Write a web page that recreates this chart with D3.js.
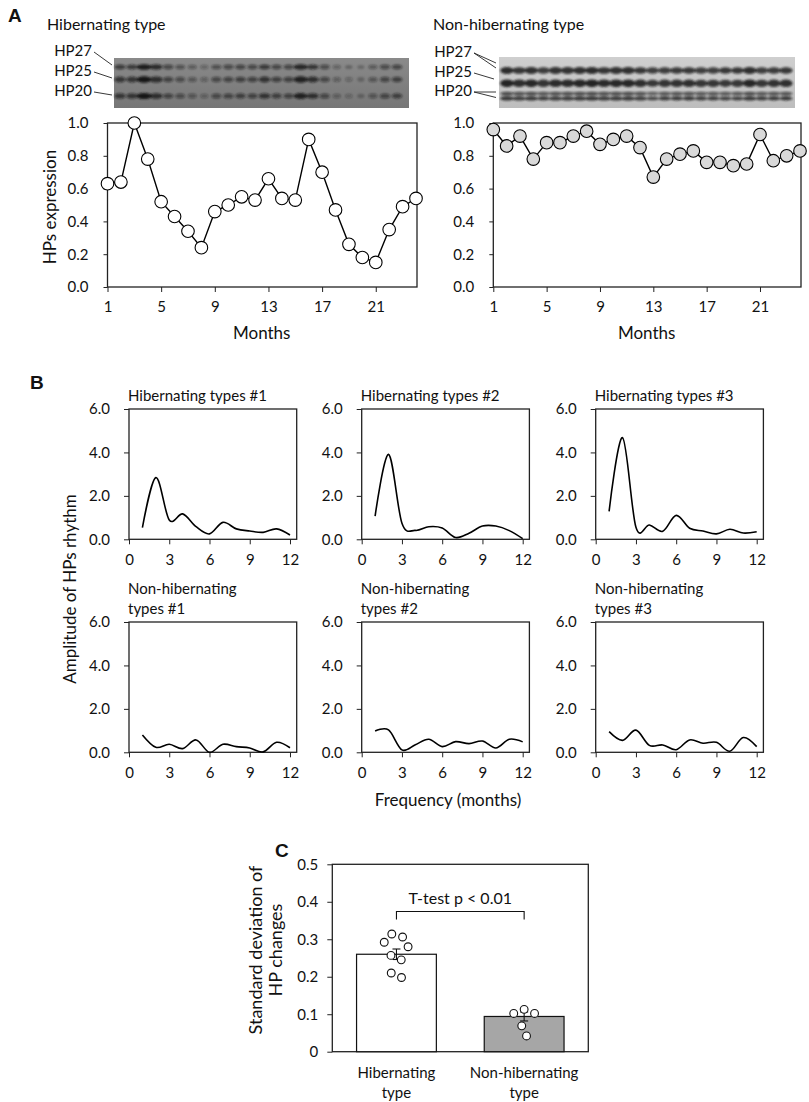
<!DOCTYPE html>
<html>
<head>
<meta charset="utf-8">
<script src="https://cdn.jsdelivr.net/npm/d3@7"></script>
<style>
  body { margin: 0; background: #fff; }
  svg text { font-family: Lato, "Open Sans", sans-serif; fill: #111; }
  .tick line { stroke: #222; }
  .plab { font-family: "Liberation Sans", Arial, sans-serif !important; font-weight: bold; font-size: 19px; }
</style>
</head>
<body>
<div id="chart"></div>
<script>
// ---- data ----
const months = [1,2,3,4,5,6,7,8,9,10,11,12,13,14,15,16,17,18,19,20,21,22,23,24];
const monthTicks = [1, 5, 9, 13, 17, 21];
const hibExpr = [0.63,0.64,1.00,0.78,0.52,0.43,0.34,0.24,0.46,0.50,0.55,0.53,
                 0.66,0.54,0.53,0.90,0.70,0.47,0.26,0.18,0.15,0.35,0.49,0.54];
const nonExpr = [0.96,0.86,0.92,0.78,0.88,0.88,0.92,0.95,0.87,0.90,0.92,0.85,
                 0.67,0.78,0.81,0.83,0.76,0.76,0.74,0.75,0.93,0.77,0.80,0.83];
const exprTicks = [0, 0.2, 0.4, 0.6, 0.8, 1.0];
const bandNames = ["HP27", "HP25", "HP20"];

const freqs = [1,2,3,4,5,6,7,8,9,10,11,12];
const freqTicks = [0, 3, 6, 9, 12];
const ampTicks = [0, 2, 4, 6];
const hib1 = [0.54,2.84,0.89,1.17,0.58,0.25,0.78,0.48,0.38,0.32,0.48,0.20];
const hib2 = [1.07,3.91,0.74,0.41,0.58,0.52,0.08,0.28,0.61,0.61,0.40,0.03];
const hib3 = [1.29,4.68,0.55,0.66,0.37,1.10,0.51,0.38,0.25,0.46,0.29,0.35];
const non1 = [0.80,0.23,0.37,0.17,0.57,0.00,0.37,0.26,0.20,0.02,0.46,0.21];
const non2 = [0.98,1.03,0.11,0.35,0.60,0.26,0.49,0.40,0.52,0.20,0.60,0.48];
const non3 = [0.95,0.55,1.02,0.32,0.34,0.12,0.57,0.42,0.46,0.05,0.68,0.26];
const spectrumTitles = [
  ["Hibernating types #1"], ["Hibernating types #2"], ["Hibernating types #3"],
  ["Non-hibernating", "types #1"], ["Non-hibernating", "types #2"], ["Non-hibernating", "types #3"]
];

const groups = ["Hibernating type", "Non-hibernating type"];
const sdMeans = [0.26, 0.094];
const sdErrors = [0.014, 0.012];
const hibSD = [0.314,0.306,0.292,0.280,0.257,0.245,0.210,0.198];
const nonSD = [0.113,0.102,0.102,0.069,0.042];
const sdTicks = [0, 0.1, 0.2, 0.3, 0.4, 0.5];

const W = 809, H = 1102;
const svg = d3.select("#chart").append("svg")
    .attr("width", W).attr("height", H);

const defs = svg.append("defs");
defs.append("filter").attr("id", "blur")
    .append("feGaussianBlur").attr("stdDeviation", 0.9);

function tidyAxis(g) {
  g.select(".domain").remove();
  g.selectAll(".tick line").attr("stroke", "#222");
}

// ---------------- A ----------------
svg.append("text").attr("class", "plab").attr("x", 8).attr("y", 22).text("A");

const yA = d3.scaleLinear().domain([0, 1]).range([287, 123]);

function gel(opt) {
  const g = svg.append("g");
  const grad = defs.append("linearGradient").attr("id", opt.id)
      .attr("x1", 0).attr("x2", 0).attr("y1", 0).attr("y2", 1);
  grad.append("stop").attr("offset", 0).attr("stop-color", opt.bg[0]);
  grad.append("stop").attr("offset", 1).attr("stop-color", opt.bg[1]);
  g.append("rect").attr("x", opt.x).attr("y", opt.y)
      .attr("width", opt.w).attr("height", opt.h)
      .attr("fill", `url(#${opt.id})`);

  const lane = d3.scalePoint().domain(months).range(opt.lanes);
  const op = d3.scaleLinear().domain([0.1, 1]).range(opt.opacity).clamp(true);
  const rx = d3.scaleLinear().domain([0.1, 1]).range(opt.rx).clamp(true);
  const bands = g.append("g").attr("filter", "url(#blur)");
  opt.rows.forEach(row => {
    bands.selectAll(null).data(opt.values).join("ellipse")
        .attr("cx", (d, i) => lane(months[i]))
        .attr("cy", row.y)
        .attr("rx", d => rx(d))
        .attr("ry", d => row.ry * (0.75 + 0.35 * d))
        .attr("fill", "#151515")
        .attr("fill-opacity", d => op(d) * row.k);
  });

  opt.labels.forEach((lb, i) => {
    g.append("text").attr("x", opt.labelX).attr("y", lb.y + 5)
        .attr("text-anchor", "end").attr("font-size", 15).text(bandNames[i]);
    lb.to.forEach(t => {
      g.append("line")
          .attr("x1", opt.labelX + 2).attr("y1", lb.y + 1)
          .attr("x2", t[0]).attr("y2", t[1])
          .attr("stroke", "#222").attr("stroke-width", 0.9);
    });
  });
}

function exprChart(x0, x1, values, fill, title) {
  const x = d3.scaleLinear().domain([1, 24]).range([x0, x1]);
  const g = svg.append("g");

  g.append("text").attr("x", title.x).attr("y", 30)
      .attr("font-size", 16).text(title.text);

  g.append("rect")
      .attr("x", x0).attr("y", yA(1))
      .attr("width", x1 - x0 + 1).attr("height", yA(0) - yA(1))
      .attr("fill", "none").attr("stroke", "#222").attr("stroke-width", 1.3);

  g.append("g").attr("transform", `translate(${x0},0)`)
      .call(d3.axisLeft(yA).tickValues(exprTicks).tickFormat(d3.format(".1f"))
          .tickSize(4).tickPadding(15))
      .call(tidyAxis)
      .selectAll("text").attr("font-size", 15).attr("font-family", "Lato");

  g.append("g").attr("transform", `translate(0,${yA(0)})`)
      .call(d3.axisBottom(x).tickValues(monthTicks).tickFormat(d3.format("d"))
          .tickSize(5).tickPadding(9))
      .call(tidyAxis)
      .selectAll("text").attr("font-size", 15).attr("font-family", "Lato");

  g.append("text").attr("x", (x0 + x1) / 2).attr("y", 339)
      .attr("text-anchor", "middle").attr("font-size", 17).text("Months");

  const line = d3.line().x((d, i) => x(months[i])).y(d => yA(d));
  g.append("path").datum(values)
      .attr("d", line).attr("fill", "none")
      .attr("stroke", "#000").attr("stroke-width", 1.4);

  g.selectAll("circle").data(values).join("circle")
      .attr("cx", (d, i) => x(months[i]))
      .attr("cy", d => yA(d))
      .attr("r", 6.3)
      .attr("fill", fill).attr("stroke", "#000").attr("stroke-width", 1.1);
}

gel({
  id: "gelL", x: 114, y: 58, w: 295, h: 50, bg: ["#8a8a8a", "#767676"],
  lanes: [120, 397], values: hibExpr, opacity: [0.2, 1], rx: [3.4, 7.4],
  rows: [{y: 67, ry: 2.6, k: 0.95}, {y: 79.5, ry: 3.0, k: 1}, {y: 96, ry: 2.8, k: 1}],
  labelX: 92,
  labels: [{y: 51, to: [[112, 65]]}, {y: 71, to: [[112, 78]]}, {y: 91, to: [[112, 95]]}]
});
gel({
  id: "gelR", x: 499, y: 57, w: 296, h: 51, bg: ["#cfcfcf", "#bdbdbd"],
  lanes: [507, 786], values: nonExpr, opacity: [0.5, 0.95], rx: [5.5, 6.8],
  rows: [{y: 70.5, ry: 3.2, k: 0.95}, {y: 83.3, ry: 3.6, k: 1},
         {y: 93.6, ry: 1.8, k: 0.75}, {y: 98.4, ry: 2.0, k: 0.9}],
  labelX: 472,
  labels: [{y: 52, to: [[496, 63], [496, 68]]}, {y: 72, to: [[494, 79]]},
           {y: 91, to: [[496, 92], [496, 97.5]]}]
});

exprChart(107.5, 416, hibExpr, "#fff", {x: 47, text: "Hibernating type"});
exprChart(493.3, 800, nonExpr, "#d9d9d9", {x: 433, text: "Non-hibernating type"});

svg.append("text")
    .attr("transform", "translate(56,207) rotate(-90)")
    .attr("text-anchor", "middle").attr("font-size", 17).text("HPs expression");

// ---------------- B ----------------
svg.append("text").attr("class", "plab").attr("x", 30).attr("y", 389).text("B");

const spectra = [hib1, hib2, hib3, non1, non2, non3];
const colX = [129, 361.7, 595.7];
const rowY = [409, 622];
const pw = 167.7, ph = 130.3;

spectra.forEach((vals, k) => {
  const x0 = colX[k % 3], y0 = rowY[Math.floor(k / 3)];
  const x = d3.scaleLinear().domain([0, 12.5]).range([x0, x0 + pw]);
  const y = d3.scaleLinear().domain([0, 6]).range([y0 + ph, y0]);
  const g = svg.append("g");

  const lines = spectrumTitles[k];
  lines.forEach((t, j) => {
    g.append("text").attr("x", x0 - 1)
        .attr("y", y0 - 8 - (lines.length - 1 - j) * 20)
        .attr("font-size", 15).text(t);
  });

  g.append("rect").attr("x", x0).attr("y", y0).attr("width", pw).attr("height", ph)
      .attr("fill", "none").attr("stroke", "#222").attr("stroke-width", 1.3);

  g.append("g").attr("transform", `translate(${x0},0)`)
      .call(d3.axisLeft(y).tickValues(ampTicks).tickFormat(d3.format(".1f"))
          .tickSize(5).tickPadding(14))
      .call(tidyAxis)
      .selectAll("text").attr("font-size", 15).attr("font-family", "Lato");

  g.append("g").attr("transform", `translate(0,${y0 + ph})`)
      .call(d3.axisBottom(x).tickValues(freqTicks).tickFormat(d3.format("d"))
          .tickSize(5).tickPadding(10))
      .call(tidyAxis)
      .selectAll("text").attr("font-size", 15).attr("font-family", "Lato");

  const line = d3.line()
      .x((d, i) => x(freqs[i])).y(d => y(d))
      .curve(d3.curveCardinal.tension(0));
  g.append("path").datum(vals).attr("d", line)
      .attr("fill", "none").attr("stroke", "#000").attr("stroke-width", 1.6);
});

svg.append("text")
    .attr("transform", "translate(76,589) rotate(-90)")
    .attr("text-anchor", "middle").attr("font-size", 17).text("Amplitude of HPs rhythm");
svg.append("text").attr("x", 448).attr("y", 806)
    .attr("text-anchor", "middle").attr("font-size", 17).text("Frequency (months)");

// ---------------- C ----------------
svg.append("text").attr("class", "plab").attr("x", 275).attr("y", 857).text("C");

const cx0 = 332.3, cx1 = 588.3;
const xC = d3.scaleBand().domain(groups).range([cx0, cx1])
    .paddingInner(0.375).paddingOuter(0.19);
const yC = d3.scaleLinear().domain([0, 0.5]).range([1051.7, 864.3]);
const gC = svg.append("g");

gC.append("rect").attr("x", cx0).attr("y", yC(0.5))
    .attr("width", cx1 - cx0).attr("height", yC(0) - yC(0.5))
    .attr("fill", "none").attr("stroke", "#222").attr("stroke-width", 1.3);

gC.selectAll(".bar").data(sdMeans).join("rect").attr("class", "bar")
    .attr("x", (d, i) => xC(groups[i]))
    .attr("y", d => yC(d))
    .attr("width", xC.bandwidth())
    .attr("height", d => yC(0) - yC(d))
    .attr("fill", (d, i) => i === 0 ? "#fff" : "#a6a6a6")
    .attr("stroke", "#111").attr("stroke-width", 1.2);

gC.append("g").attr("transform", `translate(${cx0},0)`)
    .call(d3.axisLeft(yC).tickValues(sdTicks)
        .tickFormat(d => d === 0 ? "0" : d3.format(".1f")(d))
        .tickSize(5).tickPadding(9))
    .call(tidyAxis)
    .selectAll("text").attr("font-size", 15).attr("font-family", "Lato");

// error bars
sdMeans.forEach((m, i) => {
  const c = xC(groups[i]) + xC.bandwidth() / 2;
  const e = sdErrors[i];
  const eg = gC.append("g").attr("stroke", "#111").attr("stroke-width", 1.1);
  eg.append("line").attr("x1", c).attr("x2", c).attr("y1", yC(m - e)).attr("y2", yC(m + e));
  [m - e, m + e].forEach(v => {
    eg.append("line").attr("x1", c - 4).attr("x2", c + 4).attr("y1", yC(v)).attr("y2", yC(v));
  });
});

// individual points, laid out as a small beeswarm
[hibSD, nonSD].forEach((vals, i) => {
  const c = xC(groups[i]) + xC.bandwidth() / 2;
  const nodes = vals.map(v => ({v, x: c, y: yC(v), fy: yC(v)}));
  const sim = d3.forceSimulation(nodes)
      .force("x", d3.forceX(c).strength(0.03))
      .force("collide", d3.forceCollide(5.6))
      .stop();
  for (let t = 0; t < 200; t++) sim.tick();
  gC.selectAll(null).data(nodes).join("circle")
      .attr("cx", d => d.x).attr("cy", d => d.fy)
      .attr("r", 3.9)
      .attr("fill", "#fff").attr("stroke", "#111").attr("stroke-width", 1.1);
});

// significance bracket
const bx1 = xC(groups[0]) + xC.bandwidth() / 2;
const bx2 = xC(groups[1]) + xC.bandwidth() / 2;
const by = yC(0.374);
gC.append("path")
    .attr("d", `M${bx1},${by + 8}V${by}H${bx2}V${by + 8}`)
    .attr("fill", "none").attr("stroke", "#111").attr("stroke-width", 1.1);
gC.append("text").attr("x", (bx1 + bx2) / 2).attr("y", by - 8)
    .attr("text-anchor", "middle").attr("font-size", 16).text("T-test p < 0.01");

// category labels
const catLines = [["Hibernating", "type"], ["Non-hibernating", "type"]];
catLines.forEach((ls, i) => {
  const c = xC(groups[i]) + xC.bandwidth() / 2;
  ls.forEach((t, j) => {
    gC.append("text").attr("x", c).attr("y", 1078 + j * 20)
        .attr("text-anchor", "middle").attr("font-size", 15).text(t);
  });
});

svg.append("text")
    .attr("transform", "translate(262,950) rotate(-90)")
    .attr("text-anchor", "middle").attr("font-size", 18).text("Standard deviation of");
svg.append("text")
    .attr("transform", "translate(282,950) rotate(-90)")
    .attr("text-anchor", "middle").attr("font-size", 18).text("HP changes");
</script>
</body>
</html>
